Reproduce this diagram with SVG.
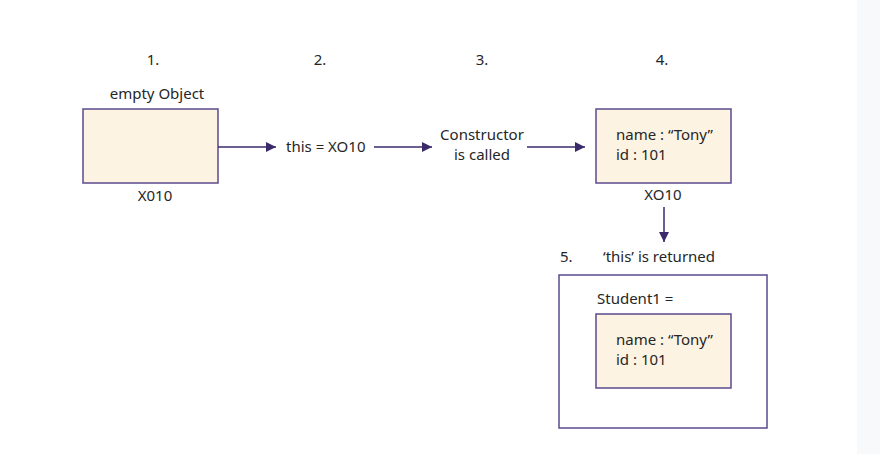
<svg xmlns="http://www.w3.org/2000/svg" width="880" height="454" viewBox="0 0 880 454">
<style>
text{font-family:"Noto Sans","Open Sans","Liberation Sans",sans-serif;font-size:15px;fill:#262626}
.c{text-anchor:middle}
.box{fill:#fdf3e2;stroke:#5b4a8c;stroke-width:1.5}
.outer{fill:#ffffff;stroke:#5b4a8c;stroke-width:1.5}
.conn{stroke:#3a2a6a;stroke-width:1.5;fill:none;marker-end:url(#ah)}
</style>
<defs>
<marker id="ah" markerWidth="10" markerHeight="10" refX="10" refY="5" orient="auto" markerUnits="userSpaceOnUse">
<path d="M0,0 L10,5 L0,10 Z" fill="#3a2a6a"/>
</marker>
</defs>
<rect x="0" y="0" width="880" height="454" fill="#ffffff"/>
<rect x="857" y="0" width="23" height="454" fill="#f8f9fb"/>
<g id="steps">
<text class="c" x="153" y="65">1.</text>
<text class="c" x="320" y="65">2.</text>
<text class="c" x="482" y="65">3.</text>
<text class="c" x="662" y="65">4.</text>
</g>
<g id="node-empty">
<text class="c" x="157" y="99">empty Object</text>
<rect class="box" x="83" y="109" width="135" height="74"/>
<text class="c" x="155" y="201">X010</text>
</g>
<g id="node-this">
<text x="286" y="152">this = XO10</text>
</g>
<g id="node-constructor">
<text class="c" x="482" y="140">Constructor</text>
<text class="c" x="482" y="160">is called</text>
</g>
<g id="node-object">
<rect class="box" x="596" y="109" width="135" height="74"/>
<text x="616" y="140">name : “Tony”</text>
<text x="616" y="160">id : 101</text>
<text class="c" x="663" y="200">XO10</text>
</g>
<g id="node-returned">
<text x="560" y="262">5.</text>
<text x="603" y="262">‘this’ is returned</text>
</g>
<g id="node-student">
<rect class="outer" x="559" y="275" width="208" height="153"/>
<text x="597" y="304">Student1 =</text>
<rect class="box" x="596" y="314" width="135" height="74"/>
<text x="616" y="345">name : “Tony”</text>
<text x="616" y="365">id : 101</text>
</g>
<g id="connectors">
<line class="conn" x1="218" y1="147" x2="276" y2="147"/>
<line class="conn" x1="374" y1="147" x2="432" y2="147"/>
<line class="conn" x1="527" y1="147" x2="585" y2="147"/>
<line class="conn" x1="664" y1="207" x2="664" y2="242"/>
</g>
</svg>
